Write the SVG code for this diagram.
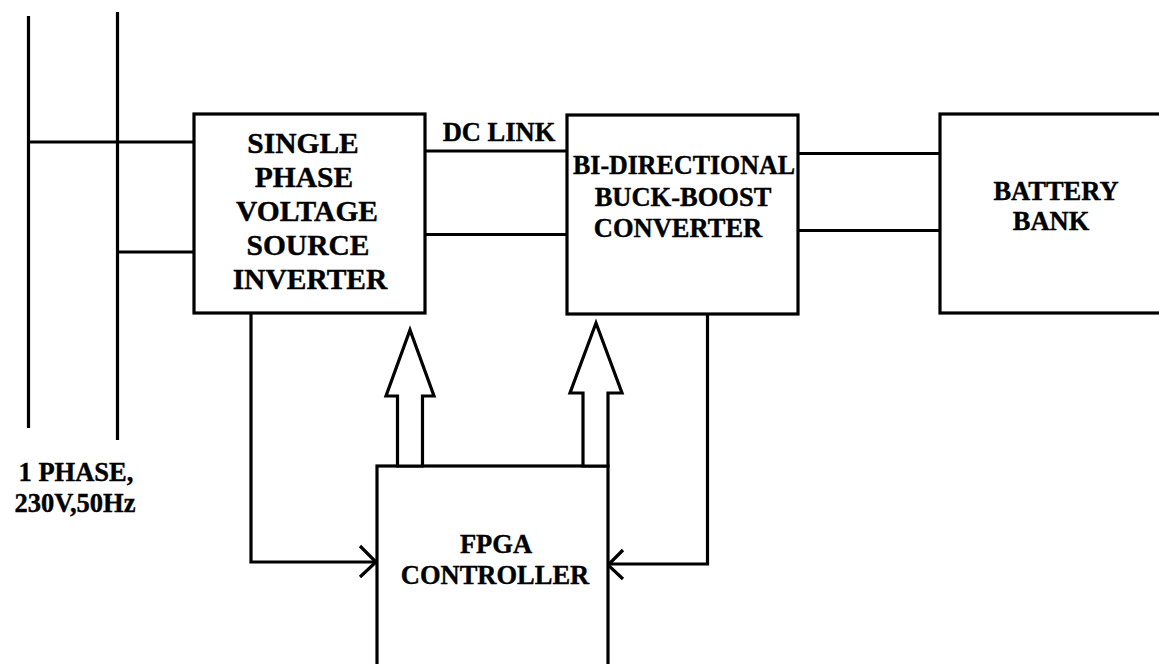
<svg xmlns="http://www.w3.org/2000/svg" width="1159" height="664" viewBox="0 0 1159 664">
<style>
.box{fill:#fff;stroke:#000;stroke-width:3.2}
.ln{fill:none;stroke:#000;stroke-width:3.2}
.hol{fill:#fff;stroke:#000;stroke-width:3.2;stroke-linejoin:miter}
text{font-family:'Liberation Serif','DejaVu Serif',serif;font-weight:bold;fill:#000;stroke:#000;stroke-width:0.4;text-anchor:middle}
.t30{font-size:29.5px}
.t26{font-size:26.5px}
</style>
<rect width="1159" height="664" fill="#fff"/>
<g id="connectors">
<line class="ln" x1="28.5" y1="16" x2="28.5" y2="428"/>
<line class="ln" x1="117.5" y1="12" x2="117.5" y2="440"/>
<line class="ln" x1="28.5" y1="142" x2="201" y2="142"/>
<line class="ln" x1="117.5" y1="252" x2="195" y2="252"/>
<line class="ln" x1="425" y1="151" x2="567" y2="151"/>
<line class="ln" x1="425" y1="234.5" x2="567" y2="234.5"/>
<line class="ln" x1="798" y1="153.5" x2="940" y2="153.5"/>
<line class="ln" x1="798" y1="230.5" x2="940" y2="230.5"/>
<polyline class="ln" points="251,313 251,562 376,562"/>
<polyline class="ln" points="360,546 376,562 360,577"/>
<polyline class="ln" points="707.5,314 707.5,564 608,564"/>
<polyline class="ln" points="623,550 608,565 623,579"/>
</g>
<g id="svsi">
<rect class="box" x="194" y="114" width="231" height="199"/>
<text class="t30" x="303" y="153">SINGLE</text>
<text class="t30" x="304" y="187">PHASE</text>
<text class="t30" x="307" y="221">VOLTAGE</text>
<text class="t30" x="308" y="255">SOURCE</text>
<text class="t30" x="310" y="289">INVERTER</text>
</g>
<g id="dclink">
<text class="t26" x="499" y="141">DC LINK</text>
</g>
<g id="bdbc">
<rect class="box" x="567" y="115" width="231" height="199"/>
<text class="t26" x="684" y="174" textLength="222" lengthAdjust="spacingAndGlyphs">BI-DIRECTIONAL</text>
<text class="t26" x="683" y="206">BUCK-BOOST</text>
<text class="t26" x="678" y="237">CONVERTER</text>
</g>
<g id="battery">
<rect class="box" x="940" y="114" width="240" height="199"/>
<text class="t26" x="1056" y="200">BATTERY</text>
<text class="t26" x="1051" y="230">BANK</text>
</g>
<g id="fpga">
<rect class="box" x="377" y="466" width="231" height="220"/>
<text class="t26" x="496" y="553">FPGA</text>
<text class="t26" x="495" y="584">CONTROLLER</text>
</g>
<g id="arrow1">
<polygon class="hol" points="397.5,466 397.5,396 386,396 410,330 434,396 422.5,396 422.5,466"/>
</g>
<g id="arrow2">
<polygon class="hol" points="583,466 583,393 570,393 596,323 622,393 608,393 608,466"/>
</g>
<g id="source">
<text class="t26" x="76" y="481">1 PHASE,</text>
<text class="t26" x="75" y="512">230V,50Hz</text>
</g>
</svg>
